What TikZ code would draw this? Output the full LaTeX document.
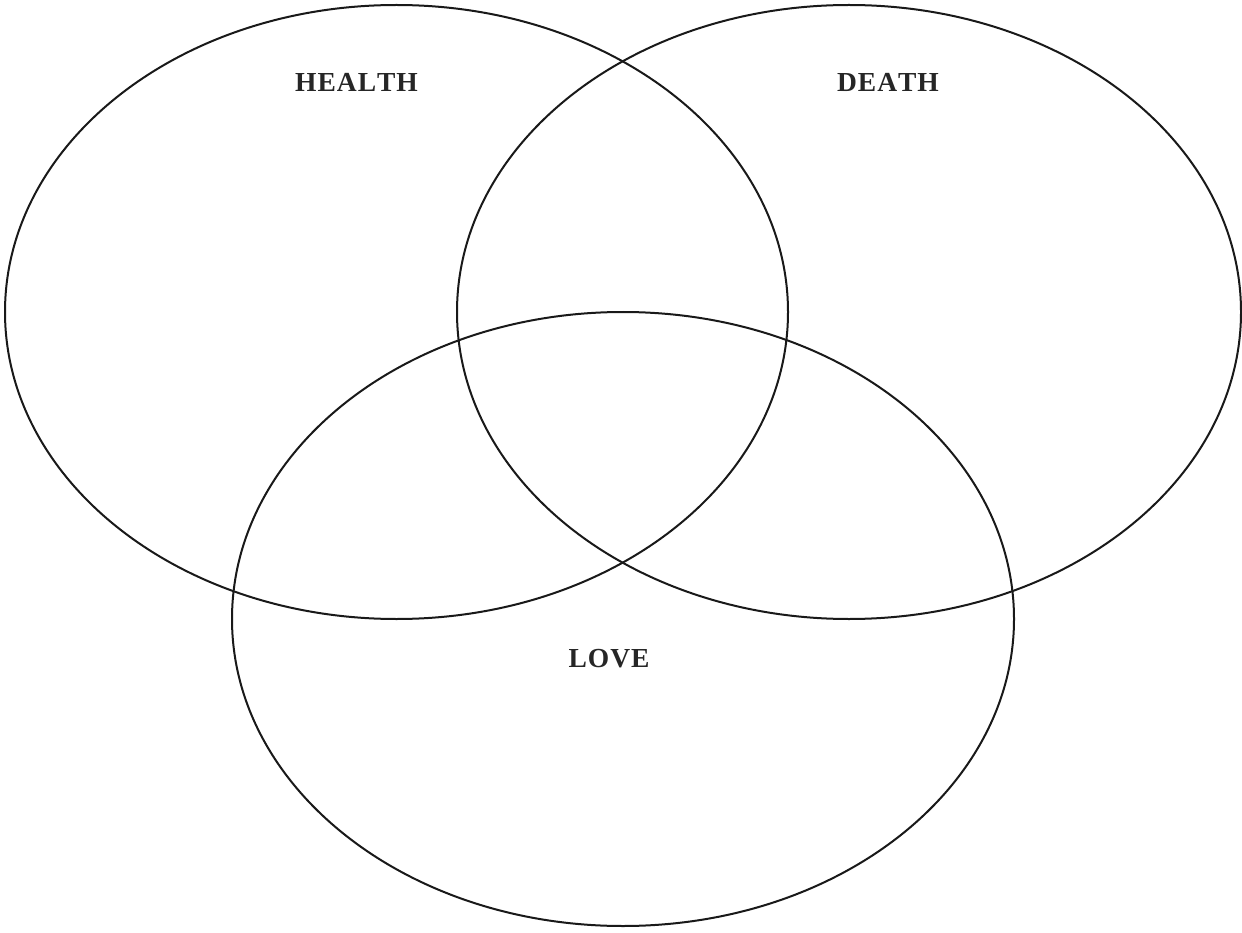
\documentclass[tikz,border=0pt]{standalone}
\usepackage{fontspec}
\setmainfont{Liberation Serif}
\begin{document}
\begin{tikzpicture}[x=1pt,y=-1pt,
  set/.style={draw=black!90,line width=2pt},
  lbl/.style={font=\fontsize{27.5}{30}\selectfont\bfseries,text=black!85,inner sep=0pt}]
\useasboundingbox (0,0) rectangle (1242,933);
\draw[set] (396.5,312) ellipse [x radius=391.5, y radius=307];
\draw[set] (849,312) ellipse [x radius=392, y radius=307];
\draw[set] (623,619) ellipse [x radius=391, y radius=307];
\node[lbl] (health) at (356.5,82) {H\kern1ptE\kern1ptA\kern1ptL\kern1ptT\kern1ptH};
\node[lbl] (death) at (888,82) {D\kern1ptE\kern1ptA\kern1ptT\kern1ptH};
\node[lbl] (love) at (609,659) {L\kern1ptO\kern1ptV\kern1ptE};
\end{tikzpicture}
\end{document}
